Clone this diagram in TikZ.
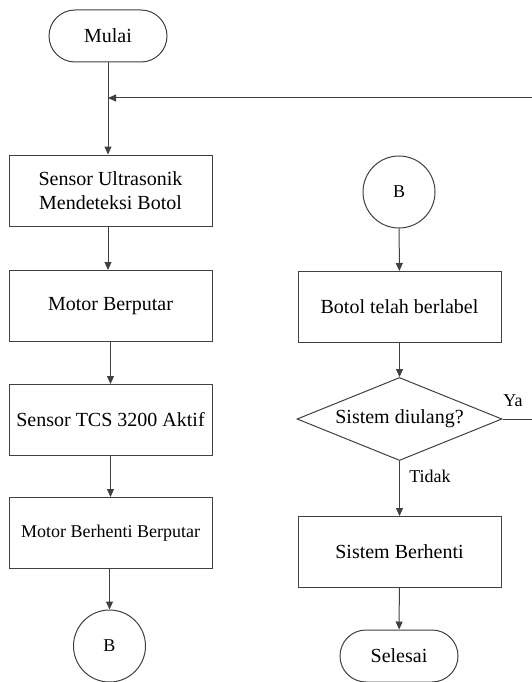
\documentclass[tikz,border=0pt]{standalone}
\usepackage{fontspec}
\setmainfont{Liberation Serif}
\usetikzlibrary{shapes.geometric,shapes.misc,arrows.meta}
\begin{document}
\begin{tikzpicture}[x=1pt,y=-1pt,
  line width=1pt,
  every node/.style={font=\fontsize{20}{24}\selectfont, text=black},
  ln/.style={draw=black!75},
  arr/.style={ln,-{Triangle[length=8pt,width=7pt]}},
  procbox/.style={draw=black!75,rectangle,minimum width=203pt,minimum height=71pt,inner sep=0pt,align=center},
  term/.style={draw=black!75,rounded rectangle,minimum width=118pt,minimum height=52pt,inner sep=0pt},
  conn/.style={draw=black!75,circle,minimum size=72pt,inner sep=0pt},
  decide/.style={draw=black!75,diamond,aspect=2.47,minimum width=205pt,minimum height=83pt,inner sep=0pt},
  lbl/.style={font=\fontsize{18}{22}\selectfont}
]
\useasboundingbox (0,0) rectangle (532,682);
% left column
\node[term] (mulai) at (108,36) {Mulai};
\node[procbox] (s1) at (110.5,190.5) {Sensor Ultrasonik\\Mendeteksi Botol};
\node[procbox] (s2) at (110.5,306) {Motor Berputar};
\node[procbox] (s3) at (110.5,420) {Sensor TCS 3200 Aktif};
\node[procbox,font=\fontsize{18}{22}\selectfont] (s4) at (110.5,533) {Motor Berhenti Berputar};
\node[conn,font=\fontsize{18}{22}\selectfont] (b1) at (109.5,646) {B};
% right column
\node[conn,font=\fontsize{18}{22}\selectfont] (b2) at (399,192) {B};
\node[procbox] (r1) at (399.5,307) {Botol telah berlabel};
\node[decide] (d) at (399.5,419) {Sistem diulang?};
\node[procbox] (r2) at (399.5,552) {Sistem Berhenti};
\node[term] (sel) at (399,656) {Selesai};
% labels
\node[lbl] (ya) at (513,401) {Ya};
\node[lbl] (tidak) at (430,476) {Tidak};
% connectors
\coordinate (edgeT) at (532,98);
\coordinate (join) at (mulai.south |- edgeT);
\coordinate (edgeY) at (532,419);
\draw[arr] (mulai.south) -- (mulai.south |- s1.north);
\draw[arr] (edgeT) -- (join);
\draw[arr] (s1.south -| mulai.south) -- (s2.north -| mulai.south);
\draw[arr] (s2) -- (s3);
\draw[arr] (s3) -- (s4);
\draw[arr] (s4.south -| b1) -- (b1.north);
\draw[arr] (b2) -- (r1);
\draw[arr] (r1) -- (d);
\draw[arr] (d) -- (r2);
\draw[arr] (r2) -- (sel);
\draw[ln] (d.east) -- (edgeY);
\end{tikzpicture}
\end{document}
